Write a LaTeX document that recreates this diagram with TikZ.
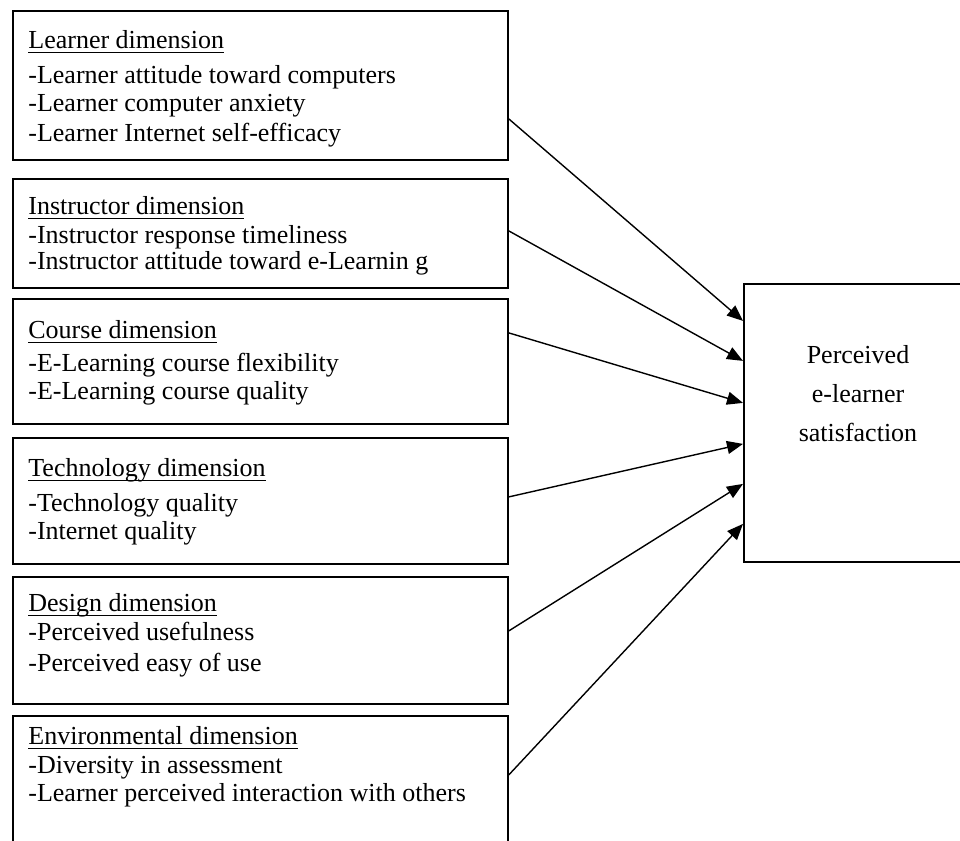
\documentclass[tikz,border=0pt]{standalone}
\usepackage{fontspec}
\setmainfont{Liberation Serif}
\usetikzlibrary{arrows.meta}
\newcommand{\dimul}[1]{\setbox0\hbox{#1}\rlap{\rule[-2.4pt]{\wd0}{0.75pt}}\box0}
\tikzset{
  dimbox/.style={draw, line width=0.9pt, anchor=north west, minimum width=247.5pt, inner sep=0pt},
  dimtext/.style={anchor=north west, align=left, inner sep=0pt, font=\fontsize{13pt}{14pt}\selectfont},
  arr/.style={line width=0.7pt, -{Triangle[length=8pt,width=6.5pt]}}
}
\begin{document}
\begin{tikzpicture}[x=0.5pt, y=-0.5pt]
\useasboundingbox (0,0) rectangle (960,841);
\clip (0,0) rectangle (960,841);
% dimension boxes
\node[dimbox, minimum height=74.5pt] (lrn) at (12,10) {};
\node[dimbox, minimum height=54.5pt] (ins) at (12,178) {};
\node[dimbox, minimum height=62.5pt] (crs) at (12,298) {};
\node[dimbox, minimum height=63pt]   (tec) at (12,437) {};
\node[dimbox, minimum height=63.5pt] (dsg) at (12,576) {};
\node[dimbox, minimum height=77.5pt] (env) at (12,715) {};
% box texts
\node[dimtext] (lrntxt) at (28,30) {\dimul{Learner dimension}\\[3.5pt]
  -Learner attitude toward computers\\ -Learner computer anxiety\\[1pt]
  -Learner Internet self-efficacy};
\node[dimtext] (instxt) at (28,196) {\dimul{Instructor dimension}\\[0.5pt]
  -Instructor response timeliness\\[-1pt] -Instructor attitude toward e-Learnin g};
\node[dimtext] (crstxt) at (28,320) {\dimul{Course dimension}\\[2.5pt]
  -E-Learning course flexibility\\ -E-Learning course quality};
\node[dimtext] (tectxt) at (28,458) {\dimul{Technology dimension}\\[3.5pt]
  -Technology quality\\ -Internet quality};
\node[dimtext] (dsgtxt) at (28,593) {\dimul{Design dimension}\\[0.5pt]
  -Perceived usefulness\\[1.5pt] -Perceived easy of use};
\node[dimtext] (envtxt) at (28,726) {\dimul{Environmental dimension}\\[0.5pt]
  -Diversity in assessment\\ -Learner perceived interaction with others};
% outcome
\node[draw, line width=0.9pt, anchor=north west, inner sep=0pt,
  minimum width=118.5pt, minimum height=139pt] (sat) at (743,283) {};
\node[anchor=north, align=center, inner sep=0pt,
  font=\fontsize{13pt}{19.5pt}\selectfont] (satlbl) at (858,345)
  {Perceived\\ e-learner\\ satisfaction};
% arrows
\foreach \src/\from/\to in {lrn/-16.75/51, ins/1.25/31, crs/14.25/10,
    tec/2/-10.5, dsg/4.75/-30.5, env/9.25/-50.5}
  \draw[arr] ([yshift=\from pt]\src.east) -- ([yshift=\to pt]sat.west);
\end{tikzpicture}
\end{document}
